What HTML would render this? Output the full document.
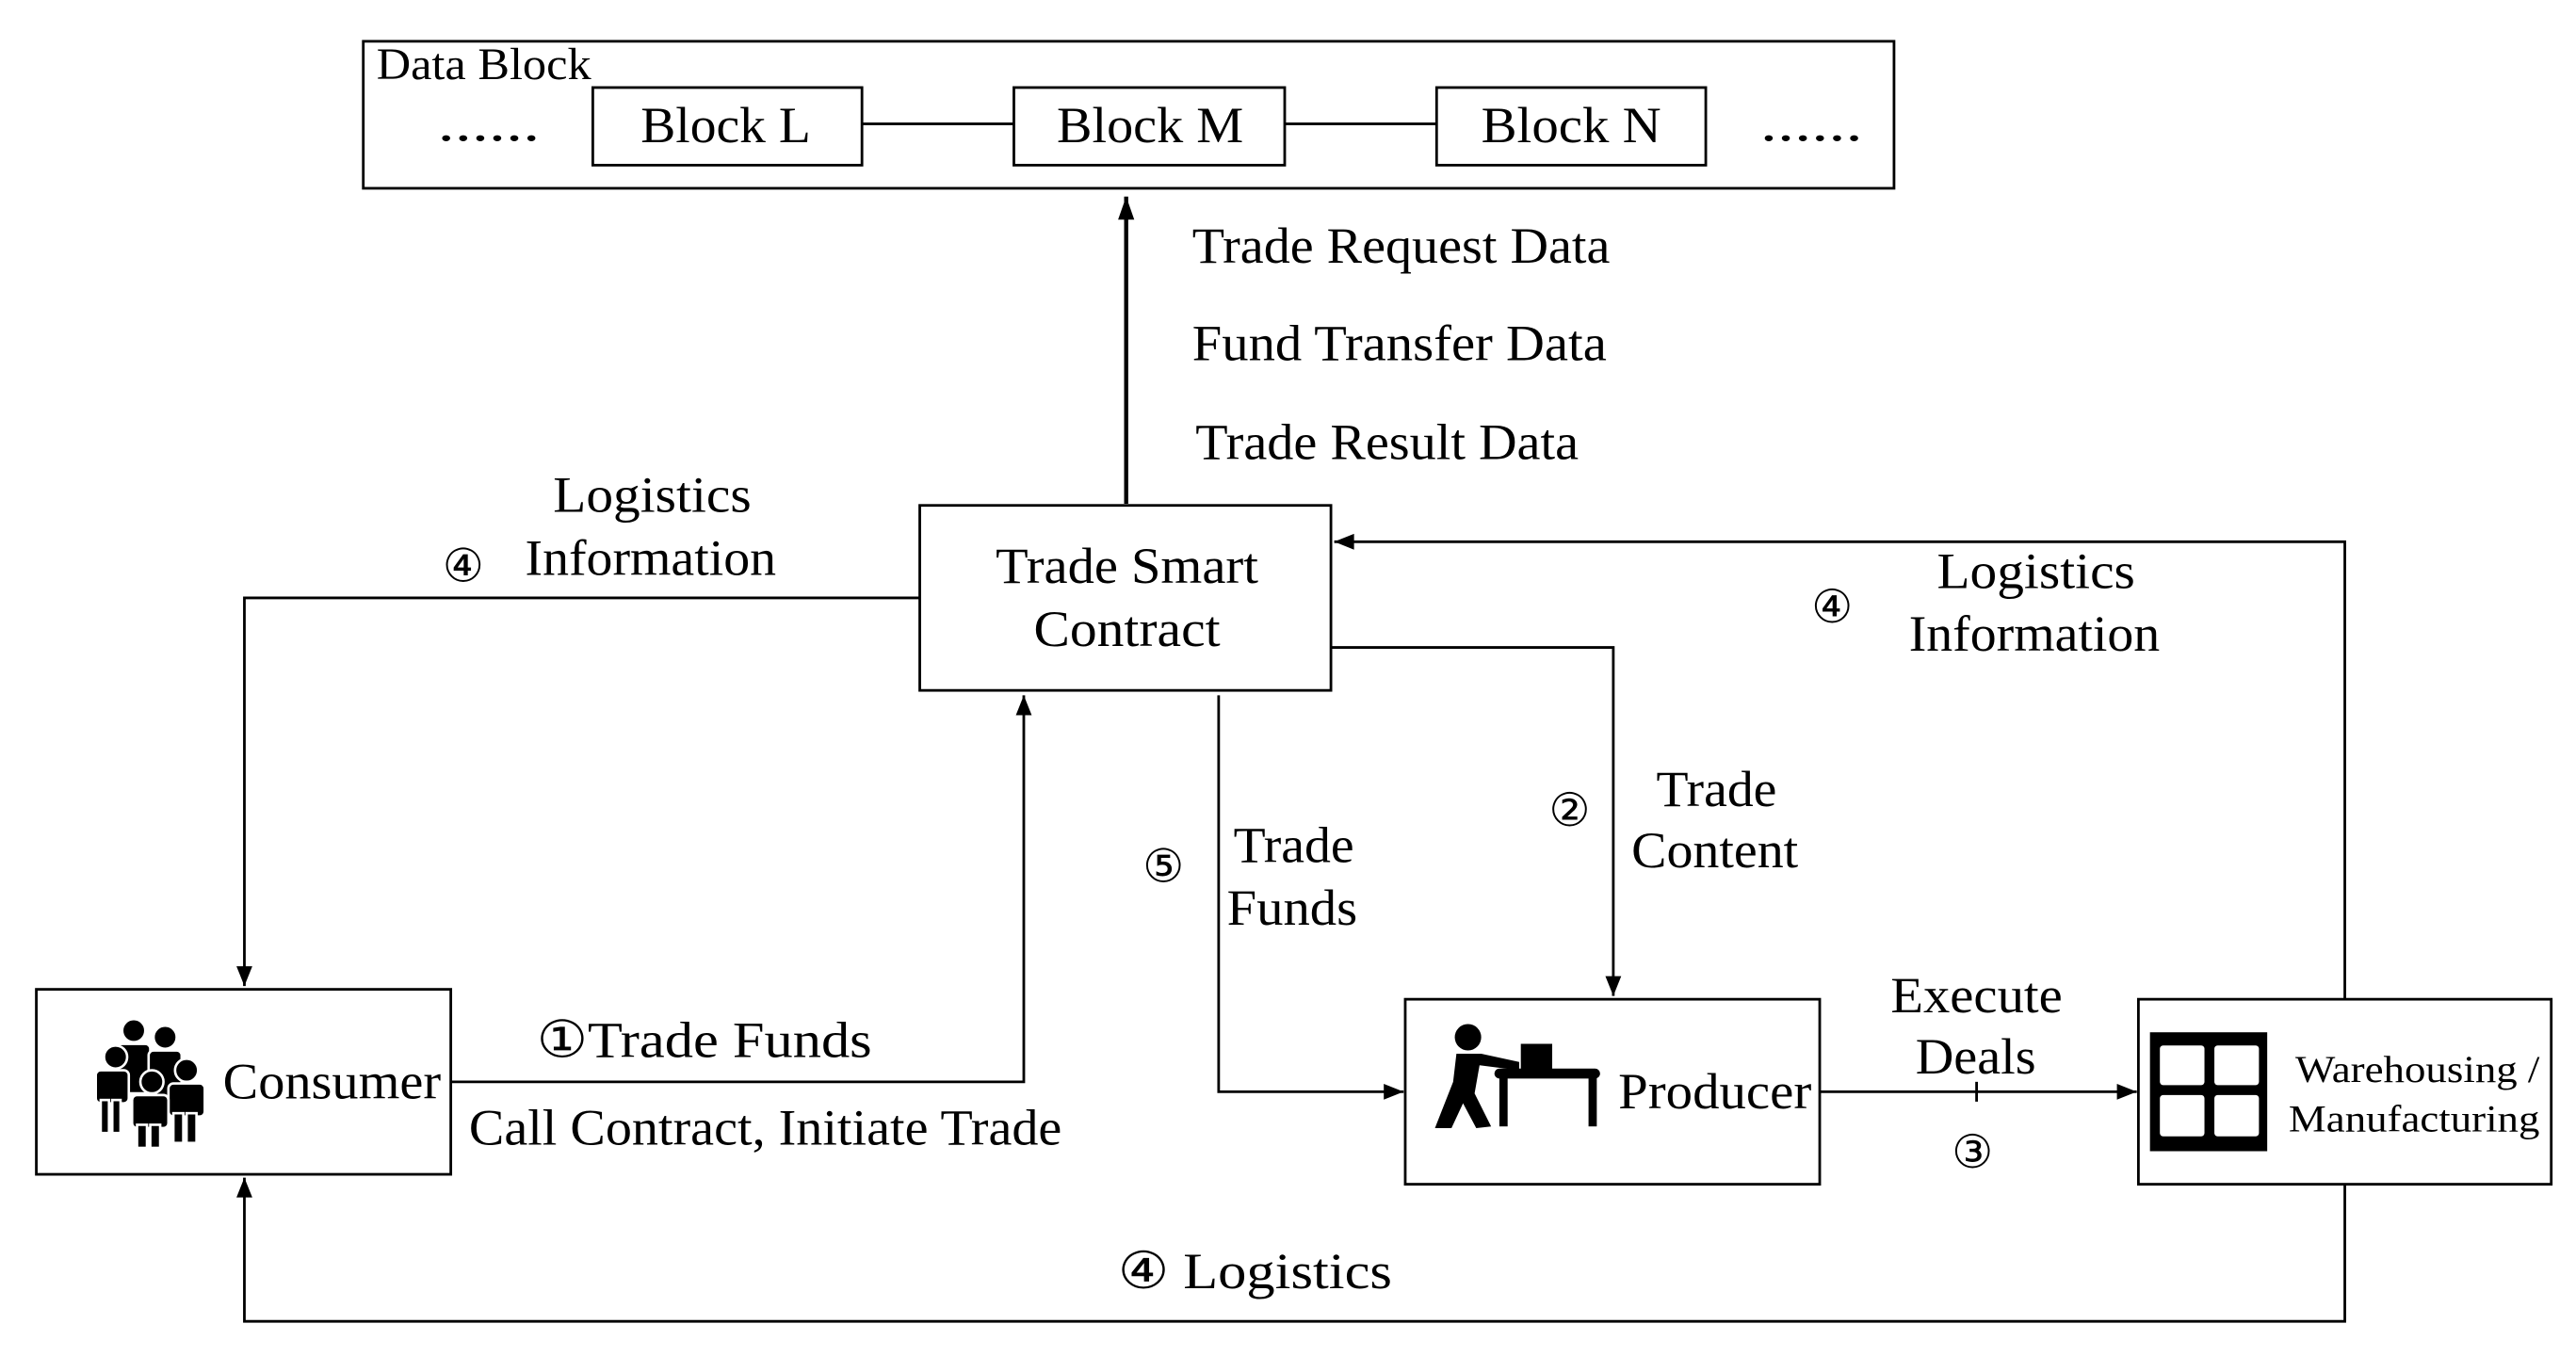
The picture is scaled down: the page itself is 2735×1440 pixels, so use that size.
<!DOCTYPE html>
<html><head><meta charset="utf-8"><style>
html,body{margin:0;padding:0;background:#fff;}
svg{display:block;}
text{font-family:"Liberation Serif",serif;fill:#000;}
</style></head><body>
<svg width="2735" height="1440" viewBox="0 0 1560 821" preserveAspectRatio="none" xmlns="http://www.w3.org/2000/svg">
<defs>
<marker id="a" viewBox="0 0 10 10" refX="10" refY="5" markerWidth="14" markerHeight="12" markerUnits="userSpaceOnUse" orient="auto">
<path d="M0,1 L10,5 L0,9 Z" fill="#000"/></marker>
<marker id="b" viewBox="0 0 10 10" refX="10" refY="5" markerWidth="18" markerHeight="14" markerUnits="userSpaceOnUse" orient="auto">
<path d="M0,1.5 L10,5 L0,8.5 Z" fill="#000"/></marker>
</defs>
<g fill="none" stroke="#000" stroke-width="1.6">
<rect x="220" y="25" width="927" height="89"/>
<rect x="359" y="53" width="163" height="47"/>
<rect x="614" y="53" width="164" height="47"/>
<rect x="870" y="53" width="163" height="47"/>
<line x1="522" y1="75" x2="614" y2="75"/>
<line x1="778" y1="75" x2="870" y2="75"/>
<rect x="557" y="306" width="249" height="112"/>
<rect x="22" y="599" width="251" height="112"/>
<rect x="851" y="605" width="251" height="112"/>
<rect x="1295" y="605" width="250" height="112"/>
</g>
<g fill="none" stroke="#000" stroke-width="1.6">
<line x1="682" y1="305" x2="682" y2="119" stroke-width="2.5" marker-end="url(#b)"/>
<polyline points="557,362 148,362 148,597" marker-end="url(#a)"/>
<polyline points="273,655 620,655 620,421" marker-end="url(#a)"/>
<polyline points="806,392 977,392 977,603" marker-end="url(#a)"/>
<polyline points="738,421 738,661 850,661" marker-end="url(#a)"/>
<line x1="1102" y1="661" x2="1294" y2="661" marker-end="url(#a)"/>
<line x1="1197" y1="655" x2="1197" y2="667"/>
<polyline points="1420,605 1420,328 808,328" marker-end="url(#a)"/>
<polyline points="1420,717 1420,800 148,800 148,713" marker-end="url(#a)"/>
</g>
<g font-size="31" lengthAdjust="spacingAndGlyphs">
<text x="228" y="48" font-size="27" textLength="130" lengthAdjust="spacingAndGlyphs">Data Block</text>
<text x="265" y="85" textLength="62" lengthAdjust="spacingAndGlyphs">......</text>
<text x="1066" y="85" textLength="62" lengthAdjust="spacingAndGlyphs">......</text>
<text x="388" y="86" textLength="103" lengthAdjust="spacingAndGlyphs">Block L</text>
<text x="640" y="86" textLength="113" lengthAdjust="spacingAndGlyphs">Block M</text>
<text x="897" y="86" textLength="109" lengthAdjust="spacingAndGlyphs">Block N</text>
<text x="722" y="159" textLength="253" lengthAdjust="spacingAndGlyphs">Trade Request Data</text>
<text x="722" y="218" textLength="251" lengthAdjust="spacingAndGlyphs">Fund Transfer Data</text>
<text x="724" y="278" textLength="232" lengthAdjust="spacingAndGlyphs">Trade Result Data</text>
<text x="603" y="353" textLength="159" lengthAdjust="spacingAndGlyphs">Trade Smart</text>
<text x="626" y="391" textLength="113" lengthAdjust="spacingAndGlyphs">Contract</text>
<text x="335" y="310" textLength="120" lengthAdjust="spacingAndGlyphs">Logistics</text>
<text x="268" y="352" font-size="28">④</text>
<text x="318" y="348" textLength="152" lengthAdjust="spacingAndGlyphs">Information</text>
<text x="1097" y="377" font-size="28">④</text>
<text x="1173" y="356" textLength="120" lengthAdjust="spacingAndGlyphs">Logistics</text>
<text x="1156" y="394" textLength="152" lengthAdjust="spacingAndGlyphs">Information</text>
<text x="938" y="500" font-size="28">②</text>
<text x="1003" y="488" textLength="73" lengthAdjust="spacingAndGlyphs">Trade</text>
<text x="988" y="525" textLength="101" lengthAdjust="spacingAndGlyphs">Content</text>
<text x="692" y="534" font-size="28">⑤</text>
<text x="747" y="522" textLength="73" lengthAdjust="spacingAndGlyphs">Trade</text>
<text x="743" y="560" textLength="79" lengthAdjust="spacingAndGlyphs">Funds</text>
<text x="325" y="640" textLength="203" lengthAdjust="spacingAndGlyphs">①Trade  Funds</text>
<text x="284" y="693" textLength="359" lengthAdjust="spacingAndGlyphs">Call Contract, Initiate Trade</text>
<text x="135" y="665" textLength="132" lengthAdjust="spacingAndGlyphs">Consumer</text>
<text x="980" y="671" textLength="117" lengthAdjust="spacingAndGlyphs">Producer</text>
<text x="1145" y="613" textLength="104" lengthAdjust="spacingAndGlyphs">Execute</text>
<text x="1160" y="650" textLength="73" lengthAdjust="spacingAndGlyphs">Deals</text>
<text x="1182" y="707" font-size="28">③</text>
<text x="1390" y="655" font-size="23" textLength="148" lengthAdjust="spacingAndGlyphs">Warehousing /</text>
<text x="1386" y="685" font-size="23" textLength="152" lengthAdjust="spacingAndGlyphs">Manufacturing</text>
<text x="677" y="780" textLength="166" lengthAdjust="spacingAndGlyphs">④  Logistics</text>
</g>
<!-- consumer icon -->
<g fill="#000" stroke="#fff" stroke-width="1.5">
<circle cx="81" cy="624" r="7"/><rect x="71" y="632" width="20" height="30" rx="3"/>
<circle cx="100" cy="628" r="7"/><rect x="90" y="636" width="20" height="30" rx="3"/>
<circle cx="70" cy="640" r="7"/><rect x="58" y="648" width="20" height="20" rx="3"/>
<rect x="61" y="666" width="5" height="20"/><rect x="68" y="666" width="5" height="20"/>
<circle cx="113" cy="648" r="7"/><rect x="102" y="656" width="22" height="20" rx="3"/>
<rect x="105" y="674" width="6" height="18"/><rect x="113" y="674" width="6" height="18"/>
<circle cx="92" cy="655" r="7"/><rect x="80" y="663" width="22" height="20" rx="3"/>
<rect x="83" y="681" width="6" height="14"/><rect x="91" y="681" width="6" height="14"/>
</g>
<!-- producer icon -->
<g fill="#000">
<circle cx="889" cy="628" r="8"/>
<path d="M882,638 L897,638 L920,643 L920,648 L896,645 L893,662 L903,682 L894,683 L886,668 L879,683 L869,683 L880,655 Z"/>
<rect x="921" y="632" width="19" height="16"/>
<rect x="905" y="647" width="64" height="6" rx="3"/>
<rect x="908" y="650" width="5" height="32"/>
<rect x="962" y="650" width="5" height="32"/>
</g>
<!-- warehouse icon -->
<rect x="1302" y="625" width="71" height="72" fill="#000"/>
<g fill="#fff">
<rect x="1308" y="633" width="27" height="24" rx="2"/>
<rect x="1341" y="633" width="27" height="24" rx="2"/>
<rect x="1308" y="663" width="27" height="25" rx="2"/>
<rect x="1341" y="663" width="27" height="25" rx="2"/>
</g>
</svg>
</body></html>
